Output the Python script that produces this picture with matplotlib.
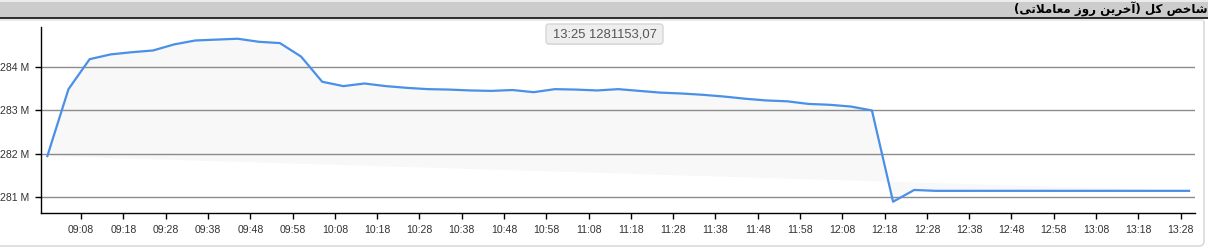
import matplotlib
matplotlib.use('Agg')
import matplotlib.pyplot as plt
from matplotlib.patches import Rectangle, FancyBboxPatch
from matplotlib.ticker import FixedLocator, FuncFormatter

# index samples (every 5 minutes), values in millions
times = ['09:00', '09:05', '09:10', '09:15', '09:20', '09:25', '09:30', '09:35',
         '09:40', '09:45', '09:50', '09:55', '10:00', '10:05', '10:10', '10:15',
         '10:20', '10:25', '10:30', '10:35', '10:40', '10:45', '10:50', '10:55',
         '11:00', '11:05', '11:10', '11:15', '11:20', '11:25', '11:30', '11:35',
         '11:40', '11:45', '11:50', '11:55', '12:00', '12:05', '12:10', '12:15',
         '12:20', '12:25', '12:30', '12:35', '12:40', '12:45', '12:50', '12:55',
         '13:00', '13:05', '13:10', '13:15', '13:20', '13:25', '13:30']
values = [281.95, 283.49, 284.18, 284.29, 284.34, 284.38, 284.52, 284.61,
          284.63, 284.65, 284.58, 284.55, 284.24, 283.66, 283.56, 283.62,
          283.56, 283.52, 283.49, 283.48, 283.46, 283.45, 283.47, 283.42,
          283.49, 283.48, 283.46, 283.49, 283.45, 283.41, 283.39, 283.36,
          283.32, 283.27, 283.23, 283.21, 283.15, 283.13, 283.09, 283.00,
          280.90, 281.17, 281.15, 281.15, 281.15, 281.15, 281.15, 281.15,
          281.15, 281.15, 281.15, 281.15, 281.15, 281.15, 281.15]

x_ticks = ['09:08', '09:18', '09:28', '09:38', '09:48', '09:58', '10:08', '10:18',
           '10:28', '10:38', '10:48', '10:58', '11:08', '11:18', '11:28', '11:38',
           '11:48', '11:58', '12:08', '12:18', '12:28', '12:38', '12:48', '12:58',
           '13:08', '13:18', '13:28']
y_ticks = [281, 282, 283, 284]

title = 'شاخص کل (آخرین روز معاملاتی)'
tooltip = '13:25 1281153,07'

W, H = 1208, 248


def to_min(s):
    h, m = s.split(':')
    return int(h) * 60 + int(m)


# very small arabic/persian shaper (matplotlib has no bidi / joining)
FORMS = {
    'ا': ('\uFE8D', '\uFE8E', None, None),
    'آ': ('\uFE81', '\uFE82', None, None),
    'ر': ('\uFEAD', '\uFEAE', None, None),
    'ز': ('\uFEAF', '\uFEB0', None, None),
    'و': ('\uFEED', '\uFEEE', None, None),
    'ش': ('\uFEB5', '\uFEB6', '\uFEB7', '\uFEB8'),
    'خ': ('\uFEA5', '\uFEA6', '\uFEA7', '\uFEA8'),
    'ص': ('\uFEB9', '\uFEBA', '\uFEBB', '\uFEBC'),
    'ک': ('\uFB8E', '\uFB8F', '\uFB90', '\uFB91'),
    'ل': ('\uFEDD', '\uFEDE', '\uFEDF', '\uFEE0'),
    'ی': ('\uFBFC', '\uFBFD', '\uFBFE', '\uFBFF'),
    'ن': ('\uFEE5', '\uFEE6', '\uFEE7', '\uFEE8'),
    'م': ('\uFEE1', '\uFEE2', '\uFEE3', '\uFEE4'),
    'ع': ('\uFEC9', '\uFECA', '\uFECB', '\uFECC'),
    'ت': ('\uFE95', '\uFE96', '\uFE97', '\uFE98'),
}


def shape(text):
    # lam + alef ligature first
    chars = []
    i = 0
    while i < len(text):
        if text[i] == 'ل' and i + 1 < len(text) and text[i + 1] == 'ا':
            chars.append('LA')
            i += 2
        else:
            chars.append(text[i])
            i += 1

    def joins_left(c):  # can connect to the following letter
        return c in FORMS and FORMS[c][2] is not None

    out = []
    for k, c in enumerate(chars):
        prev = chars[k - 1] if k > 0 else None
        nxt = chars[k + 1] if k + 1 < len(chars) else None
        from_prev = prev is not None and joins_left(prev)
        if c == 'LA':
            out.append('\uFEFC' if from_prev else '\uFEFB')
            continue
        if c not in FORMS:
            out.append(c)
            continue
        to_next = joins_left(c) and nxt is not None and (nxt in FORMS or nxt == 'LA')
        iso, fin, ini, med = FORMS[c]
        if from_prev and to_next:
            out.append(med)
        elif from_prev:
            out.append(fin)
        elif to_next:
            out.append(ini)
        else:
            out.append(iso)
    s = ''.join(out)[::-1]
    return s.translate(str.maketrans('()', ')('))


fig = plt.figure(figsize=(W / 100, H / 100), dpi=100)

# background / frame in pixel coords
bg = fig.add_axes([0, 0, 1, 1], zorder=0)
bg.set_xlim(0, W)
bg.set_ylim(H, 0)
bg.axis('off')
bg.add_patch(FancyBboxPatch((-6, 18), 1210, 228, boxstyle='round,pad=0,rounding_size=5',
                            facecolor='white', edgecolor='#d4d4d4', linewidth=1))
bg.add_patch(Rectangle((0, 0), W, 2, facecolor='#ececec', edgecolor='none'))
bg.add_patch(Rectangle((0, 2), W, 15.5, facecolor='#cccccc', edgecolor='none'))
bg.add_patch(Rectangle((0, 18.5), 1204, 2.5, facecolor='#e9e9e9', edgecolor='none'))
bg.plot([0, W], [17.5, 17.5], color='#111111', linewidth=1.2)
bg.text(1207, 9.8, shape(title), ha='right', va='center', fontsize=8.6,
        family='DejaVu Sans', fontweight='bold', color='#000000')

# main chart
x0, x1, y0, y1 = 41, 1195, 27, 213
ax = fig.add_axes([x0 / W, 1 - y1 / H, (x1 - x0) / W, (y1 - y0) / H], zorder=1)
ax.patch.set_alpha(0)

xs = [to_min(t) for t in times]
ax.fill(xs, values, color='#f8f8f8', linewidth=0, zorder=1)
ax.plot(xs, values, color='#4a8fe8', linewidth=1.6, zorder=3, solid_joinstyle='round')

ax.set_xlim(538.5, 811.4)
ax.set_ylim(280.64, 284.92)

ax.xaxis.set_major_locator(FixedLocator([to_min(t) for t in x_ticks]))
ax.xaxis.set_major_formatter(FuncFormatter(lambda v, p: '%02d:%02d' % (int(round(v)) // 60, int(round(v)) % 60)))
ax.yaxis.set_major_locator(FixedLocator(y_ticks))
ax.yaxis.set_major_formatter(FuncFormatter(lambda v, p: '%d M' % round(v)))

ax.grid(axis='y', color='#8c8c8c', linewidth=1, zorder=2)
ax.set_axisbelow(False)
for side in ['top', 'right']:
    ax.spines[side].set_visible(False)
for side in ['left', 'bottom']:
    ax.spines[side].set_color('black')
    ax.spines[side].set_linewidth(1)
    ax.spines[side].set_zorder(4)
ax.tick_params(axis='both', length=4.5, width=1, color='black', labelcolor='#333333',
               labelsize=7.6, pad=4)
for lab in ax.get_xticklabels() + ax.get_yticklabels():
    lab.set_family('Liberation Sans')

# tooltip
over = fig.add_axes([0, 0, 1, 1], zorder=5)
over.set_xlim(0, W)
over.set_ylim(H, 0)
over.axis('off')
over.add_patch(FancyBboxPatch((546, 25), 117, 20, boxstyle='round,pad=0,rounding_size=3',
                              facecolor='#d8d8d8', edgecolor='none', alpha=0.6))
over.add_patch(FancyBboxPatch((546, 24), 117, 20, boxstyle='round,pad=0,rounding_size=3',
                              facecolor='#eeeeee', edgecolor='#d6d6d6', linewidth=1))
over.text(604.5, 34.5, tooltip, ha='center', va='center', fontsize=9.4,
          family='Liberation Sans', color='#555555')

fig.savefig('out.png', dpi=100)
